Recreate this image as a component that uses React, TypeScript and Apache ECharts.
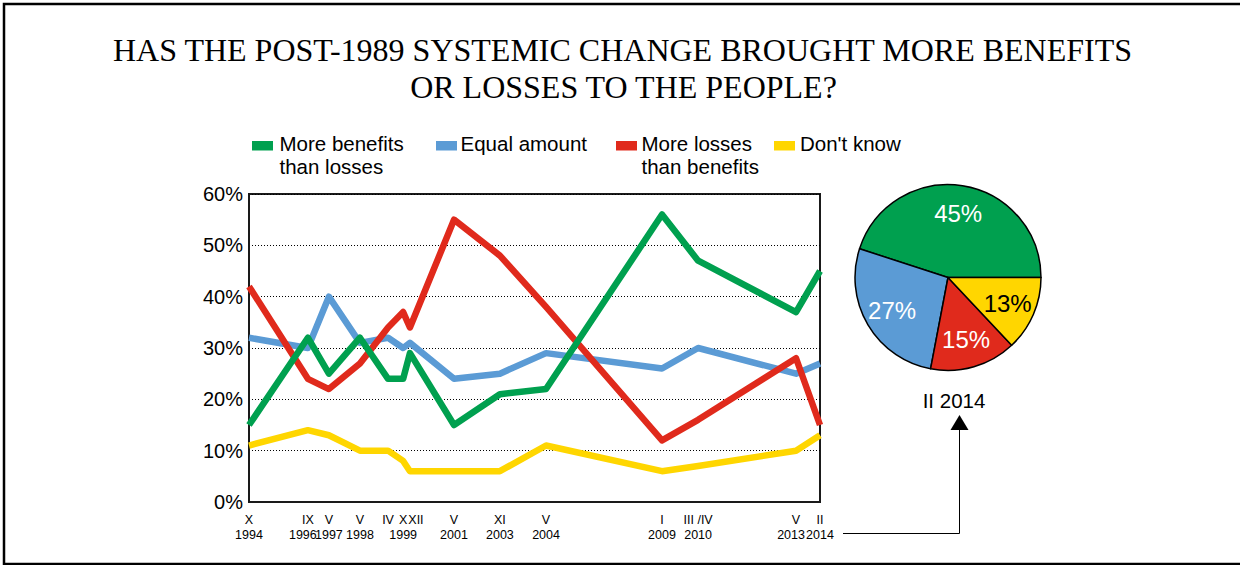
import React, { useEffect, useRef } from "react";
import * as echarts from "echarts";

// Survey dates (decimal years, as placed on the reference axis)
const surveyX = [1994.8, 1996.79, 1997.5, 1998.55, 1999.5, 2000.01, 2000.24, 2001.73, 2003.28, 2004.84, 2008.76, 2009.98, 2013.29, 2014.1];
const tickLabels = ["X\n1994", "IX\n1996", "V\n1997", "V\n1998", "IV", "X\n1999", "XII", "V\n2001", "XI\n2003", "V\n2004", "I\n2009", "III /IV\n2010", "V\n2013", "II\n2014"];

const moreBenefits = [15, 32, 25, 32, 24, 24, 29, 15, 21, 22, 56, 47, 37, 45];
const equalAmount = [32, 30, 40, 31, 32, 30, 31, 24, 25, 29, 26, 30, 25, 27];
const moreLosses = [42, 24, 22, 27, 34, 37, 34, 55, 48, 38, 12, 16, 28, 15];
const dontKnow = [11, 14, 13, 10, 10, 8, 6, 6, 6, 11, 6, 7, 10, 13];

const seriesNames = ["More benefits\nthan losses", "Equal amount", "More losses\nthan benefits", "Don't know"];
const seriesColors = ["#00A04F", "#5B9BD5", "#E02A1C", "#FFD600"];

const pieLabel = "II 2014";
const pieValues = [45, 27, 15, 13];
const pieLabelColors = ["#fff", "#fff", "#fff", "#000"];

const yTicks = [0, 10, 20, 30, 40, 50, 60];

const titleLines = ["HAS THE POST-1989 SYSTEMIC CHANGE BROUGHT MORE BENEFITS", "OR LOSSES TO THE PEOPLE?"];

const SANS = "'Liberation Sans', Arial, sans-serif";
const SERIF = "'Liberation Serif', 'Times New Roman', serif";

export default function App() {
  const ref = useRef<HTMLDivElement>(null);

  useEffect(() => {
    if (!ref.current) return;
    const chart = echarts.init(ref.current, undefined, { renderer: "svg" });

    const pairs = (vals: number[]) => vals.map((v, i) => [surveyX[i], v]);
    const lineSeries = (idx: number, vals: number[], z: number) => ({
      type: "line",
      name: seriesNames[idx],
      xAxisIndex: 0,
      data: pairs(vals),
      showSymbol: false,
      symbol: "none",
      z,
      lineStyle: { color: seriesColors[idx], width: 6.5, join: "round", cap: "butt" },
      itemStyle: { color: seriesColors[idx] },
      silent: true,
    });

    // small visual nudges of crowded tick labels (as the reference lays them out)
    const monthRight: Record<number, boolean> = { 6: true };
    const yearLeft: Record<number, boolean> = { 1: true, 12: true };

    const labelFor = (val: number) => {
      let best = 0;
      surveyX.forEach((x, i) => {
        if (Math.abs(x - val) < Math.abs(surveyX[best] - val)) best = i;
      });
      const parts = tickLabels[best].split("\n");
      const m = `{${monthRight[best] ? "mr" : "n"}|${parts[0]}}`;
      if (parts.length < 2) return m;
      const y = `{${yearLeft[best] ? "yl" : "n"}|${parts[1]}}`;
      return `${m}\n${y}`;
    };

    const tok = { fontSize: 12.5, lineHeight: 15.5, fontFamily: SANS, color: "#000" };
    const xLabelStyle = {
      hideOverlap: false,
      margin: 10,
      fontSize: 12.5,
      lineHeight: 15.5,
      fontFamily: SANS,
      color: "#000",
      formatter: labelFor,
      rich: {
        n: { ...tok },
        mr: { ...tok, padding: [0, 0, 0, 12] },
        yl: { ...tok, padding: [0, 10, 0, 0] },
      },
    };

    const legendX = [
      { rx: 252, tx: 279.5 },
      { rx: 436, tx: 460.5 },
      { rx: 616, tx: 641.5 },
      { rx: 774, tx: 800 },
    ];
    const legendGraphics: any[] = [];
    seriesNames.forEach((name, i) => {
      legendGraphics.push({
        type: "rect",
        shape: { x: legendX[i].rx, y: 141, width: 21, height: 9.5 },
        style: { fill: seriesColors[i] },
      });
      legendGraphics.push({
        type: "text",
        x: legendX[i].tx,
        y: 132.5,
        style: {
          text: name,
          fill: "#000",
          font: `20.5px ${SANS}`,
          lineHeight: 22.5,
          align: "left",
          verticalAlign: "top",
        },
      });
    });

    const pieData = pieValues.map((v, i) => ({
      value: v,
      name: seriesNames[i],
      itemStyle: { color: seriesColors[i] },
    }));
    const pieLabelData = pieValues.map((v, i) => ({
      value: v,
      name: seriesNames[i],
      label: { color: pieLabelColors[i] },
    }));

    chart.setOption({
      animation: false,
      backgroundColor: "#fff",
      grid: {
        left: 249,
        right: 420,
        top: 194,
        bottom: 63,
        show: true,
        borderColor: "#1a1a1a",
        borderWidth: 2,
        backgroundColor: "transparent",
      },
      xAxis: [
        {
          type: "value",
          position: "bottom",
          min: surveyX[0],
          max: surveyX[surveyX.length - 1],
          axisLine: { show: true, lineStyle: { color: "#1a1a1a", width: 2 } },
          axisTick: { show: false },
          splitLine: { show: false },
          axisLabel: {
            ...xLabelStyle,
            customValues: surveyX.slice(0, surveyX.length - 1),
            showMinLabel: true,
            showMaxLabel: true,
          },
        },
        {
          type: "value",
          position: "bottom",
          min: surveyX[0],
          max: surveyX[surveyX.length - 1],
          axisLine: { show: false },
          axisTick: { show: false },
          splitLine: { show: false },
          axisLabel: {
            ...xLabelStyle,
            customValues: [surveyX[surveyX.length - 1]],
            showMinLabel: true,
            showMaxLabel: true,
          },
        },
      ],
      yAxis: {
        type: "value",
        min: yTicks[0],
        max: yTicks[yTicks.length - 1],
        interval: 10,
        axisLine: { show: true, lineStyle: { color: "#1a1a1a", width: 2 } },
        axisTick: { show: false },
        splitLine: { show: true, lineStyle: { color: "#000", width: 1, type: [1, 2] } },
        axisLabel: {
          formatter: "{value}%",
          margin: 6,
          fontSize: 20,
          fontFamily: SANS,
          color: "#000",
        },
      },
      series: [
        lineSeries(3, dontKnow, 2),
        lineSeries(1, equalAmount, 3),
        lineSeries(2, moreLosses, 4),
        lineSeries(0, moreBenefits, 5),
        {
          type: "pie",
          center: [948, 277.5],
          radius: [0, 93],
          startAngle: 0,
          clockwise: false,
          silent: true,
          data: pieData,
          label: { show: false },
          labelLine: { show: false },
          itemStyle: { borderColor: "#000", borderWidth: 1.5 },
          z: 2,
        },
        {
          type: "pie",
          center: [948, 277.5],
          radius: [31, 93],
          startAngle: 0,
          clockwise: false,
          silent: true,
          data: pieLabelData,
          itemStyle: { color: "rgba(0,0,0,0)", borderWidth: 0 },
          label: {
            show: true,
            position: "inside",
            formatter: "{c}%",
            fontSize: 24,
            fontFamily: SANS,
          },
          labelLine: { show: false },
          z: 3,
        },
      ],
      graphic: [
        {
          type: "rect",
          shape: { x: 4, y: 4, width: 1300, height: 560 },
          style: { fill: "none", stroke: "#000", lineWidth: 2.5 },
          silent: true,
          z: -10,
        },
        {
          type: "text",
          x: 622.5,
          y: 49.5,
          style: { text: titleLines[0], fill: "#000", font: `32px ${SERIF}`, align: "center", verticalAlign: "middle" },
        },
        {
          type: "text",
          x: 623.5,
          y: 86.5,
          style: { text: titleLines[1], fill: "#000", font: `32px ${SERIF}`, align: "center", verticalAlign: "middle" },
        },
        ...legendGraphics,
        {
          type: "text",
          x: 954,
          y: 400,
          style: { text: pieLabel, fill: "#000", font: `20.5px ${SANS}`, align: "center", verticalAlign: "middle" },
        },
        {
          type: "polyline",
          shape: { points: [[843, 533.5], [959.5, 533.5], [959.5, 429]] },
          style: { stroke: "#000", lineWidth: 1, fill: "none" },
        },
        {
          type: "polygon",
          shape: { points: [[959.5, 415], [950.5, 430], [968.5, 430]] },
          style: { fill: "#000" },
        },
      ],
    });

    return () => chart.dispose();
  }, []);

  return (
    <div
      ref={ref}
      style={{ position: "absolute", left: 0, top: 0, width: 1240, height: 565, background: "#fff" }}
    />
  );
}
